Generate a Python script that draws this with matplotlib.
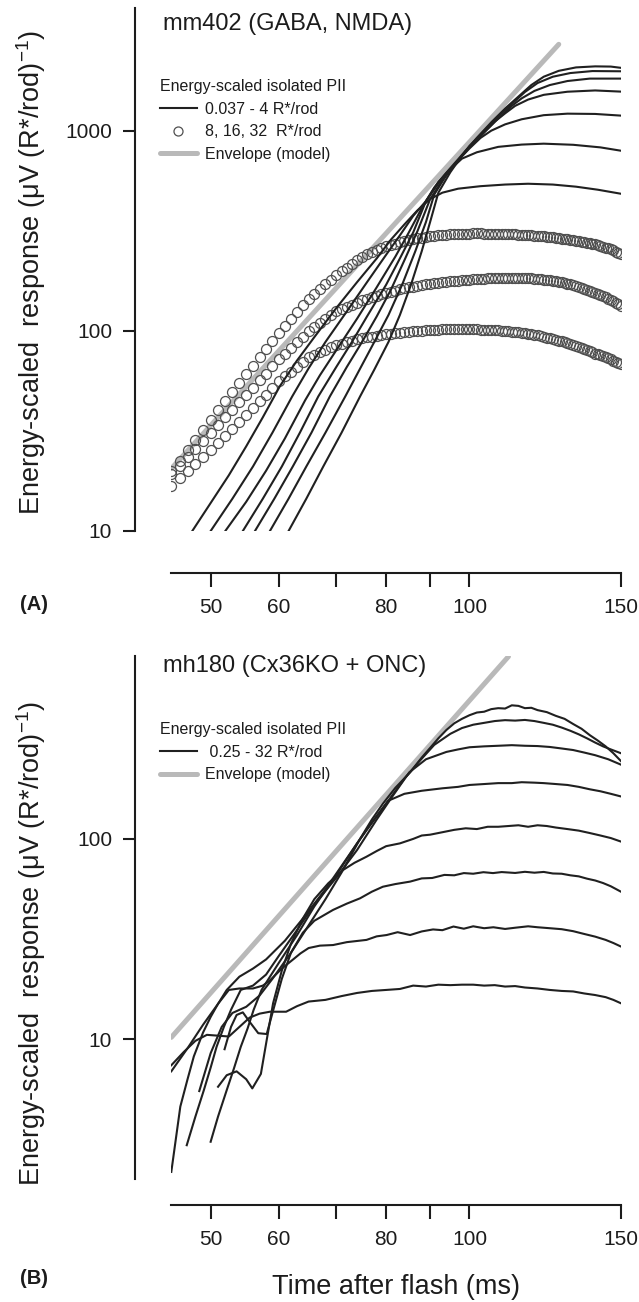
import matplotlib
matplotlib.use("Agg")
import matplotlib.pyplot as plt
from matplotlib.lines import Line2D
from matplotlib.ticker import FixedLocator, FixedFormatter, NullLocator

plt.rcParams['font.family'] = ['Liberation Sans', 'DejaVu Sans']
plt.rcParams['mathtext.fontset'] = 'custom'
plt.rcParams['mathtext.rm'] = 'Liberation Sans'
plt.rcParams['mathtext.it'] = 'Liberation Sans:italic'
plt.rcParams['mathtext.bf'] = 'Liberation Sans:bold'

# ---------------- shared axis settings ----------------
X_TICKS = [50, 60, 70, 80, 90, 100, 150]
X_TICK_LABELS = ['50', '60', '', '80', '', '100', '150']
X_RANGE = (45, 150)

# ---------------- panel A: mm402 (GABA, NMDA) ----------------
A_Y_TICKS = [10, 100, 1000]
A_Y_RANGE = (10, 4100)

A_ENV_T = [45, 127]
A_ENV_V = [20.5, 2700]

# isolated PII, 0.037 - 4 R*/rod (dimmest first)
A_P1_T = [61.6, 64.6, 67.6, 71, 74.6, 77.5, 80.5, 83, 85.5, 88, 90, 92, 95, 98, 102, 106, 110, 114, 118, 122, 127, 133, 140, 146, 150]
A_P1_V = [10, 14.5, 21, 31, 47, 64, 88, 120, 170, 250, 350, 490, 620, 750, 920, 1100, 1290, 1480, 1690, 1860, 1990, 2070, 2095, 2090, 2060]
A_P2_T = [58.6, 61.6, 64.6, 68, 71.7, 74.5, 77.5, 80.5, 83.5, 86.5, 89, 91, 94, 97, 100, 104, 108, 112, 116, 120, 125, 131, 139, 150]
A_P2_V = [10, 14.5, 21, 31, 47, 64, 88, 120, 170, 250, 350, 480, 600, 710, 840, 1000, 1180, 1360, 1560, 1730, 1860, 1940, 1985, 1980]
A_P3_T = [56.3, 59.3, 62.3, 65.5, 68.8, 72, 75, 78, 81, 84, 87, 90, 93, 96, 100, 104, 108, 112, 115, 119, 124, 130, 138, 150]
A_P3_V = [10, 14.5, 21, 31, 47, 66, 88, 118, 160, 225, 315, 455, 565, 675, 825, 980, 1150, 1330, 1450, 1580, 1690, 1770, 1820, 1820]
A_P4_T = [54.5, 57.5, 60.5, 63.5, 66.7, 70, 73, 76, 80, 83, 86, 89, 92, 95, 99, 103, 107, 110, 113, 117, 122, 130, 140, 150]
A_P4_V = [10, 14.5, 21, 31, 47, 66, 88, 118, 170, 230, 310, 445, 555, 650, 795, 940, 1110, 1220, 1330, 1430, 1510, 1565, 1588, 1567]
A_P5_T = [52, 55, 58, 61, 64.4, 67, 70, 74, 78, 82, 85, 88, 91, 94, 97, 100, 103, 106, 110, 115, 122, 130, 140, 150]
A_P5_V = [10, 14, 20, 29, 45, 60, 80, 115, 165, 235, 310, 410, 520, 615, 710, 815, 920, 1000, 1075, 1140, 1195, 1216, 1212, 1189]
A_P6_T = [50, 53, 56, 59, 62.2, 65, 68, 72, 76, 80, 83, 86, 89, 92, 95, 98, 102, 108, 115, 122, 132, 142, 150]
A_P6_V = [10, 14.5, 21, 31, 47, 65, 88, 125, 175, 240, 300, 375, 445, 545, 640, 725, 780, 830, 852, 861, 850, 825, 794]
A_P7_T = [47.6, 50, 52.5, 55, 57.5, 60.2, 63, 66, 70, 74, 78, 81, 84, 87, 90, 93, 97, 103, 110, 117, 125, 133, 141, 150]
A_P7_V = [10, 13.8, 19, 26.5, 37, 53, 71, 93, 130, 175, 230, 285, 340, 400, 455, 490, 513, 528, 538, 543, 538, 525, 507, 484]

# isolated PII at 8, 16, 32 R*/rod, sampled every 1 ms from 45 to 150 ms
CIRCLE_T = list(range(45, 151))
CIRCLE_8_V = [20, 22.5, 25.3, 28.5, 32, 36, 40, 44.5, 49.4, 54.9,
              61, 67.1, 73.7, 81.1, 89.1, 98, 106, 114.6, 124, 134,
              145, 153, 161.6, 170.6, 180, 190, 198, 207, 216, 225,
              235, 241, 247, 252, 258, 265, 269, 273, 277, 281,
              285, 287.5, 290, 292, 294.5, 297, 298, 299.5, 300.5, 302,
              303, 303.5, 304, 305, 305.5, 306, 306.5, 306.5, 306.5, 306,
              306, 306, 305.5, 305.5, 305, 305, 304.5, 304, 303, 302.5,
              302, 301, 300, 299.5, 299, 298, 297, 296, 295, 294,
              293, 292, 290.5, 289, 288, 287, 285.5, 284, 282.5, 281,
              279, 277, 275.5, 273.5, 272, 270, 267.5, 265, 262.5, 260.5,
              258, 255, 252, 249, 246, 243]
CIRCLE_16_V = [19.3, 21.2, 23.3, 25.6, 28.2, 31, 33.8, 36.9, 40.3, 44,
               48, 52.1, 56.5, 61.2, 66.4, 72, 76.9, 82.1, 87.7, 93.6,
               100, 104.6, 109.3, 114.3, 119.5, 125, 128.2, 131.5, 134.9, 138.4,
               142, 144.5, 147, 149.6, 152.3, 155, 157, 159, 161, 163,
               165, 166.4, 167.8, 169.2, 170.6, 172, 173, 174, 175, 176,
               177, 177.6, 178.2, 178.8, 179.4, 180, 180.6, 181.2, 181.8, 182.4,
               183, 183.2, 183.4, 183.6, 183.8, 184, 184, 184, 184, 184,
               184, 183.6, 183.2, 182.8, 182.4, 182, 181.2, 180.4, 179.6, 178.8,
               178, 176.8, 175.6, 174.4, 173.2, 172, 170.4, 168.8, 167.2, 165.6,
               164, 162.2, 160.4, 158.6, 156.8, 155, 153, 151, 149, 147,
               145, 142.6, 140.2, 137.8, 135.4, 133]
CIRCLE_32_V = [16.8, 18.3, 19.9, 21.6, 23.5, 25.5, 27.6, 29.9, 32.4, 35.1,
               38, 41.1, 44.4, 47.9, 51.8, 56, 59.2, 62.6, 66.2, 70,
               74, 76.1, 78.2, 80.4, 82.7, 85, 86.4, 87.8, 89.2, 90.6,
               92, 92.8, 93.6, 94.4, 95.2, 96, 96.6, 97.2, 97.8, 98.4,
               99, 99.4, 99.8, 100.2, 100.6, 101, 101.2, 101.4, 101.6, 101.8,
               102, 102, 102, 102, 102, 102, 101.8, 101.6, 101.4, 101.2,
               101, 100.8, 100.6, 100.4, 100.2, 100, 99.6, 99.2, 98.8, 98.4,
               98, 97.4, 96.8, 96.2, 95.6, 95, 94.2, 93.4, 92.6, 91.8,
               91, 90.2, 89.4, 88.6, 87.8, 87, 86, 85, 84, 83,
               82, 81, 80, 79, 78, 77, 76.2, 75.4, 74.6, 73.8,
               73, 72, 71, 70, 69, 68]

# ---------------- panel B: mh180 (Cx36KO + ONC) ----------------
B_Y_TICKS = [10, 100]
B_Y_RANGE = (2, 820)

B_ENV_T = [45, 111]
B_ENV_V = [10.2, 815]

# isolated PII, 0.25 - 32 R*/rod (dimmest first)
B_P1_T = [48.5, 50, 51.5, 53, 55, 57, 59, 62, 65, 68, 71, 74.6, 77, 79.3, 82, 85.3, 88, 90, 92, 94, 96, 98, 100, 102, 104, 106, 108, 110, 112, 114, 116, 118, 120, 123, 126, 129, 132, 135, 138, 141, 144, 147, 150]
B_P1_V = [5.5, 8.5, 11.5, 13.5, 14.5, 16.5, 20, 27, 37, 50, 68, 100, 125, 150, 180, 215, 255, 285, 318, 350, 378, 398, 415, 428, 432, 445, 450, 448, 465, 462, 450, 452, 440, 430, 412, 398, 375, 355, 330, 310, 290, 268, 245]
B_P2_T = [45, 46.1, 47, 47.8, 49, 50, 51, 52.2, 54, 56, 58, 61, 64, 68, 72, 76, 80, 84, 87.5, 91, 95, 98, 101, 104, 107, 110, 113, 116, 119, 122, 125, 128, 131, 134, 137, 140, 143, 146, 150]
B_P2_V = [2.17, 4.6, 6.3, 8.2, 10.8, 12.9, 15, 17.6, 20.5, 22.5, 25, 31, 40, 56, 80, 112, 150, 200, 245, 295, 335, 358, 372, 380, 388, 392, 390, 393, 388, 380, 372, 360, 347, 333, 318, 303, 290, 280, 268]
B_P3_T = [46.9, 48, 49.1, 50, 50.8, 51.8, 52.8, 54.2, 56, 58, 60, 63, 66, 70, 74, 78, 81.5, 85.1, 89, 94, 97, 100, 104, 108, 112, 116, 120, 124, 128, 132, 136, 140, 145, 150]
B_P3_V = [2.95, 4.1, 5.56, 7.2, 9.15, 11.5, 14, 17.6, 18.5, 21, 26, 35, 47, 64, 88, 125, 165, 215, 250, 272, 280, 287, 290, 292, 294, 292, 291, 288, 283, 278, 270, 262, 250, 235]
B_P4_T = [50, 51, 52.2, 53.2, 54.2, 55.2, 56.1, 57.3, 60, 63, 66, 70, 74, 77.5, 80.4, 84, 88, 93, 97, 100, 104, 108, 112, 115, 119, 122, 126, 130, 134, 138, 142, 146, 150]
B_P4_V = [3.07, 4.1, 5.56, 7.1, 9.15, 11.3, 14, 17.6, 24, 33, 46, 66, 95, 125, 155, 168, 174, 179, 182, 186, 188, 190, 190, 192, 191, 190, 188, 186, 182, 177, 173, 168, 163]
B_P5_T = [51, 52.2, 53.6, 55, 55.9, 57.2, 58.1, 59.1, 60.5, 62, 64, 66, 68.5, 71.3, 73.5, 75.9, 78, 80, 83, 86, 88, 90, 93, 96, 99, 102, 105, 108, 111, 114, 117, 120, 123, 126, 130, 134, 138, 142, 146, 150]
B_P5_V = [5.78, 6.6, 6.9, 6.3, 5.67, 6.7, 9.9, 15.1, 22, 30, 40, 50, 60, 70, 76, 81.5, 87, 92, 95, 100, 104, 105, 108, 111, 113, 112, 115, 115, 116, 117, 115, 117, 116, 114, 112, 110, 107, 104, 101, 97]
B_P6_T = [51.9, 52.8, 53.6, 54.5, 55.5, 56.8, 58.1, 59.4, 60.5, 62, 64, 66, 69.4, 72, 74.6, 77, 79.3, 82, 85.3, 88, 90.5, 93.5, 96, 98.5, 101, 103.8, 106.5, 109, 113, 116, 119, 122, 125, 128, 131, 134, 137, 140, 143, 146, 150]
B_P6_V = [8.9, 11.5, 13.2, 13.6, 12.2, 10.7, 10.6, 15, 20, 27, 34, 39, 44.2, 47.5, 50.5, 54.5, 57.7, 59.5, 61.2, 63.5, 63.8, 66.1, 65.8, 67.5, 67, 68.2, 67.5, 68.3, 67.6, 68.5, 67.8, 68.4, 67.2, 67, 65.8, 65, 63.3, 62, 60.2, 58, 54.5]
B_P7_T = [45, 47, 49, 51, 52.5, 54, 56, 57.5, 58.5, 60.5, 62.5, 63.6, 65, 67, 69.4, 72, 75.9, 78, 80.1, 82.5, 85.3, 88, 90.7, 93, 95.8, 98.5, 101, 104, 106.6, 110, 113, 117, 120, 124, 128, 132, 136, 140, 144, 147, 150]
B_P7_V = [6.9, 9.0, 11.8, 15, 17.6, 17.9, 17.9, 18.5, 19.5, 22.5, 25.2, 26.8, 28.5, 29.3, 29.5, 30.5, 31.3, 32.6, 33.1, 34.2, 33.1, 34.5, 35.3, 35, 36.5, 35.6, 36.6, 35.8, 36.2, 35.5, 36, 36.6, 36.2, 35.8, 35.4, 34.6, 33.5, 32.5, 31.3, 30.2, 29]
B_P8_T = [45, 46.5, 48, 49.5, 51, 52.5, 54, 55.5, 57, 58.6, 61.2, 63, 65, 68, 71, 74, 77, 80, 83, 86, 89, 92, 95, 98, 101, 104, 107, 110, 113, 116, 120, 124, 128, 132, 136, 140, 144, 147, 150]
B_P8_V = [7.4, 8.6, 9.8, 10.5, 10.4, 10.3, 11.5, 12.8, 13.4, 13.7, 13.7, 14.6, 15.4, 15.7, 16.4, 17, 17.4, 17.6, 17.8, 18.5, 18.3, 18.7, 18.6, 18.7, 18.7, 18.5, 18.6, 18.3, 18.4, 18.1, 17.9, 17.6, 17.4, 17.3, 16.9, 16.6, 16.2, 15.7, 15.1]

# ---------------- styling ----------------
INK = '#1c1c1c'
TRACE = '#202020'
ENV_GREY = '#b9b9b9'
RING = '#505050'
W, H = 639, 1302
PT = 0.72  # points per pixel at 100 dpi

fig = plt.figure(figsize=(W / 100, H / 100), dpi=100)


def px_axes(left, top, right, bottom):
    return fig.add_axes([left / W, 1 - bottom / H, (right - left) / W, (bottom - top) / H])


def style_axes(ax, y_range, y_ticks, x_offset_px):
    ax.set_xscale('log')
    ax.set_yscale('log')
    ax.set_xlim(*X_RANGE)
    ax.set_ylim(*y_range)
    ax.patch.set_visible(False)
    for side in ('top', 'right'):
        ax.spines[side].set_visible(False)
    ax.spines['left'].set_position(('outward', 36 * PT))
    ax.spines['bottom'].set_position(('outward', x_offset_px * PT))
    for side in ('left', 'bottom'):
        ax.spines[side].set_linewidth(1.5)
        ax.spines[side].set_color(INK)
    ax.xaxis.set_major_locator(FixedLocator(X_TICKS))
    ax.xaxis.set_major_formatter(FixedFormatter(X_TICK_LABELS))
    ax.xaxis.set_minor_locator(NullLocator())
    ax.yaxis.set_major_locator(FixedLocator(y_ticks))
    ax.yaxis.set_major_formatter(FixedFormatter([str(v) for v in y_ticks]))
    ax.yaxis.set_minor_locator(NullLocator())
    ax.tick_params(axis='x', which='major', direction='out', length=14 * PT, width=1.5,
                   pad=8, labelsize=15, colors=INK)
    ax.tick_params(axis='y', which='major', direction='out', length=12 * PT, width=1.5,
                   pad=8, labelsize=15, colors=INK)


def legend(ax, handles, labels, top_px):
    leg = ax.legend(handles, labels, title='Energy-scaled isolated PII', loc='upper left',
                    bbox_to_anchor=(160 / W, 1 - top_px / H), bbox_transform=fig.transFigure,
                    frameon=False, fontsize=11.5, title_fontsize=11.5, alignment='left',
                    handlelength=2.3, handletextpad=0.5, labelspacing=0.48,
                    borderpad=0, borderaxespad=0)
    for t in leg.get_texts():
        t.set_color(INK)
    leg.get_title().set_color(INK)
    return leg


# ---------------- panel A ----------------
axA = px_axes(171.3, 8, 620.9, 531)
style_axes(axA, A_Y_RANGE, A_Y_TICKS, 42)

axA.plot(A_ENV_T, A_ENV_V, color=ENV_GREY, lw=3.6, solid_capstyle='round', zorder=1)
for vals in (CIRCLE_8_V, CIRCLE_16_V, CIRCLE_32_V):
    axA.plot(CIRCLE_T, vals, ls='none', marker='o', ms=7.2, mfc='none', mec=RING, mew=0.9, zorder=2)
for t, v in ((A_P1_T, A_P1_V), (A_P2_T, A_P2_V), (A_P3_T, A_P3_V), (A_P4_T, A_P4_V),
             (A_P5_T, A_P5_V), (A_P6_T, A_P6_V), (A_P7_T, A_P7_V)):
    axA.plot(t, v, color=TRACE, lw=1.5, solid_joinstyle='round', zorder=3)

legend(axA,
       [Line2D([], [], color=TRACE, lw=1.5),
        Line2D([], [], ls='none', marker='o', ms=6.5, mfc='none', mec=RING, mew=0.9),
        Line2D([], [], color=ENV_GREY, lw=3.6, solid_capstyle='round')],
       ['0.037 - 4 R*/rod', '8, 16, 32  R*/rod', 'Envelope (model)'], 79)

fig.text(163 / W, 1 - 24 / H, 'mm402 (GABA, NMDA)', fontsize=17, ha='left', va='center', color=INK)

# ---------------- panel B ----------------
axB = px_axes(171.3, 656, 620.9, 1179)
style_axes(axB, B_Y_RANGE, B_Y_TICKS, 26)

axB.plot(B_ENV_T, B_ENV_V, color=ENV_GREY, lw=3.6, solid_capstyle='round', zorder=1)
for t, v in ((B_P1_T, B_P1_V), (B_P2_T, B_P2_V), (B_P3_T, B_P3_V), (B_P4_T, B_P4_V),
             (B_P5_T, B_P5_V), (B_P6_T, B_P6_V), (B_P7_T, B_P7_V), (B_P8_T, B_P8_V)):
    axB.plot(t, v, color=TRACE, lw=1.5, solid_joinstyle='round', zorder=3)

legend(axB,
       [Line2D([], [], color=TRACE, lw=1.5),
        Line2D([], [], color=ENV_GREY, lw=3.6, solid_capstyle='round')],
       [' 0.25 - 32 R*/rod', 'Envelope (model)'], 722)

fig.text(163 / W, 1 - 666 / H, 'mh180 (Cx36KO + ONC)', fontsize=17, ha='left', va='center', color=INK)

# ---------------- shared labels ----------------
ylab = 'Energy-scaled  response (\u03bcV (R*/rod)$^{-1}$)'
fig.text(31 / W, 1 - 273 / H, ylab, rotation=90, fontsize=19.5, ha='center', va='center', color=INK)
fig.text(31 / W, 1 - 944 / H, ylab, rotation=90, fontsize=19.5, ha='center', va='center', color=INK)
fig.text(396 / W, 1 - 1287 / H, 'Time after flash (ms)', fontsize=19.5, ha='center', va='center', color=INK)
fig.text(34 / W, 1 - 605 / H, '(A)', fontsize=14.5, fontweight='bold', ha='center', va='center', color=INK)
fig.text(34 / W, 1 - 1278 / H, '(B)', fontsize=14.5, fontweight='bold', ha='center', va='center', color=INK)

fig.savefig('out.png', dpi=100, facecolor='white')
